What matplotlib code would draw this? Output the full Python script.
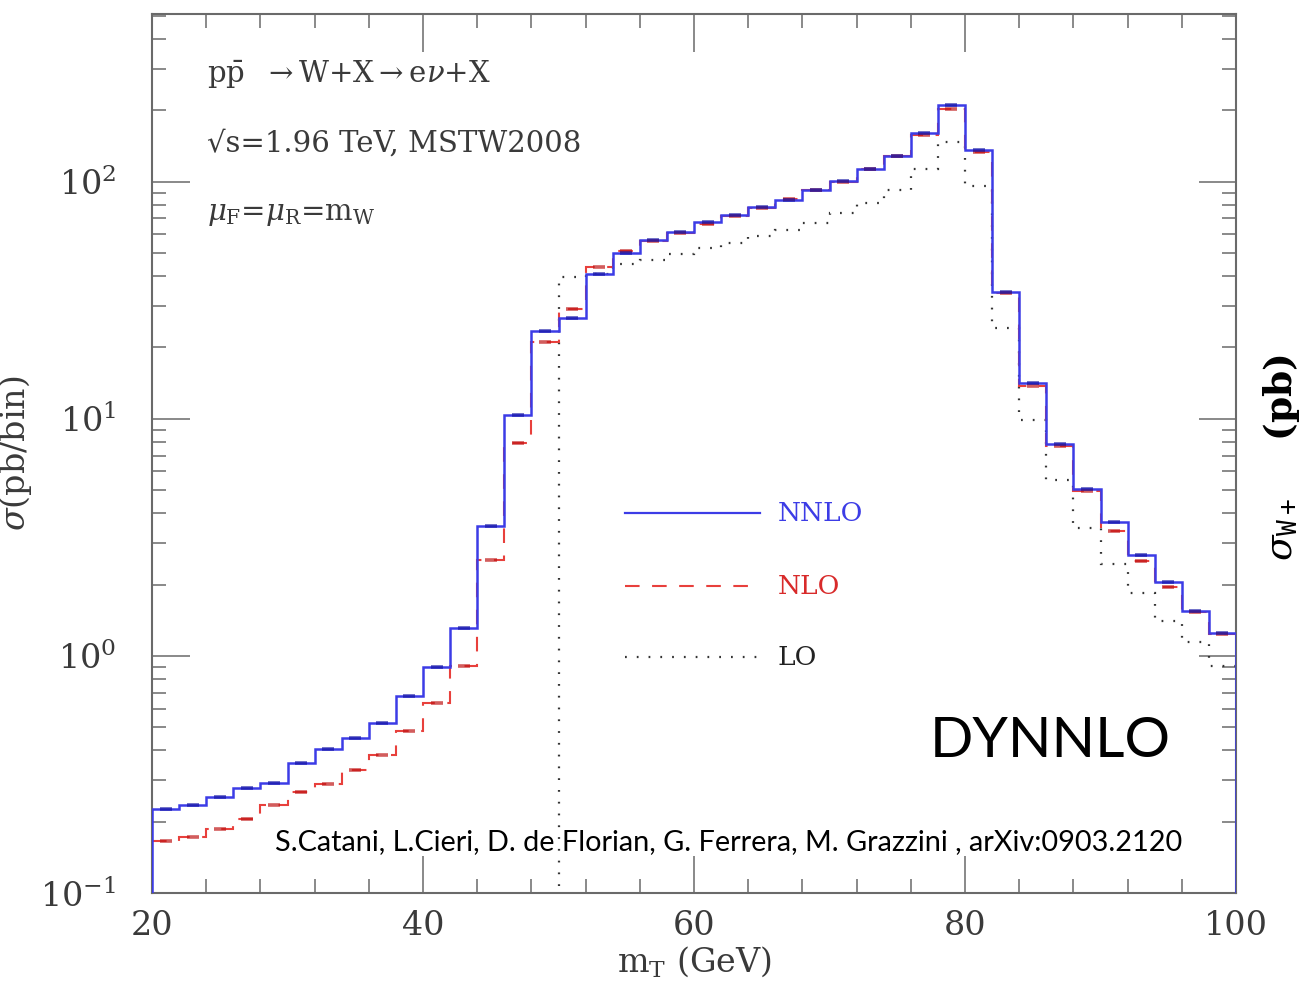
import numpy as np
import matplotlib
matplotlib.use("Agg")
import matplotlib.pyplot as plt
from matplotlib.ticker import MultipleLocator, LogLocator, NullFormatter

# ---------------- data ----------------
bin_edges = np.arange(20, 101, 2)  # m_T bins, 2 GeV wide

nnlo = [0.227, 0.235, 0.253, 0.277, 0.290, 0.355, 0.403, 0.452, 0.523, 0.678,
        0.90, 1.31, 3.54, 10.4, 23.4, 26.6, 40.8, 50.0, 56.7, 61.5,
        67.5, 72.3, 78.3, 83.6, 92.7, 100.5, 113.6, 129.0, 160.0, 211.0,
        136.7, 34.4, 14.1, 7.85, 5.06, 3.66, 2.67, 2.05, 1.55, 1.25]

nlo = [0.165, 0.173, 0.186, 0.206, 0.235, 0.266, 0.288, 0.331, 0.382, 0.482,
       0.630, 0.905, 2.53, 7.94, 21.1, 29.1, 43.5, 50.8, 56.0, 61.0,
       66.5, 71.5, 77.5, 84.5, 92.0, 100.0, 113.0, 128.0, 157.0, 203.0,
       133.0, 33.8, 13.7, 7.7, 4.95, 3.35, 2.51, 1.96, 1.53, 1.24]

lo = [0, 0, 0, 0, 0, 0, 0, 0, 0, 0,
      0, 0, 0, 0, 0, 39.7, 41.0, 45.0, 46.8, 49.5,
      52.3, 55.0, 59.0, 62.6, 66.7, 73.5, 81.5, 92.7, 113.0, 147.0,
      95.7, 24.1, 9.9, 5.53, 3.47, 2.43, 1.85, 1.40, 1.14, 0.905]

series_labels = ["NNLO", "NLO", "LO"]
x_ticks = [20, 40, 60, 80, 100]

# ---------------- styling ----------------
plt.rcParams["mathtext.fontset"] = "dejavuserif"
plt.rcParams["font.family"] = ["DejaVu Serif"]

BLUE = "#3c3ce6"
RED = "#e8403c"
BLACK = "#333333"
GREY = "#6a6a6a"
TXT = "#3a3a3a"

fig = plt.figure(figsize=(13.06, 9.91), dpi=100)
ax = fig.add_axes([152 / 1306, 98 / 991, 1084 / 1306, 879 / 991])

edges = np.array(bin_edges, dtype=float)
centers = 0.5 * (edges[:-1] + edges[1:])
nnlo_a = np.array(nnlo)
nlo_a = np.array(nlo)
lo_a = np.array(lo, dtype=float)
lo_plot = np.where(lo_a > 0, lo_a, 1e-6)

# histograms
ax.stairs(lo_plot, edges, baseline=None, color=BLACK, lw=1.6,
          linestyle=(0, (0.8, 4.5)), zorder=2)
ax.stairs(nlo_a, edges, baseline=None, color=RED, lw=1.5,
          linestyle=(0, (7, 6)), zorder=3)
ax.stairs(nnlo_a, edges, baseline=1e-6, color=BLUE, lw=1.8, zorder=4)

# small error-bar marks at bin centres
ax.plot(centers, nlo_a, ls="none", marker="_", ms=8, mew=2.6,
        color="#c01818", alpha=0.7, zorder=5)
ax.plot(centers, nnlo_a, ls="none", marker="_", ms=8, mew=2.6,
        color="#1a1aa8", alpha=0.75, zorder=6)

ax.set_yscale("log")
ax.set_xlim(20, 100)
ax.set_ylim(0.1, 510)

ax.xaxis.set_major_locator(MultipleLocator(20))
ax.xaxis.set_minor_locator(MultipleLocator(4))
ax.set_xticks(x_ticks)
ax.yaxis.set_major_locator(LogLocator(base=10, numticks=10))
ax.yaxis.set_minor_locator(LogLocator(base=10, subs=np.arange(2, 10), numticks=20))
ax.yaxis.set_minor_formatter(NullFormatter())

ax.tick_params(axis="both", which="major", direction="in", length=27, width=1.1,
               color=GREY, top=True, right=True, labelsize=24, labelcolor=TXT)
ax.tick_params(axis="both", which="minor", direction="in", length=10, width=1.1,
               color=GREY, top=True, right=True)
ax.tick_params(axis="x", which="major", pad=12)
ax.tick_params(axis="y", which="major", pad=26)
for s in ax.spines.values():
    s.set_color(GREY)
    s.set_linewidth(1.5)

ax.set_xlabel(r"$\mathrm{m_T}$ (GeV)", fontsize=24, color=TXT, labelpad=2)
ax.set_ylabel(r"$\sigma$(pb/bin)", fontsize=24, color=TXT, labelpad=4)

# process annotations
ax.text(0.051, 0.923, r"$\mathrm{p\bar{p}}$  $\rightarrow$W+X$\rightarrow$e$\nu$+X",
        transform=ax.transAxes, fontsize=21, color=TXT)
ax.text(0.051, 0.843, "\u221as=1.96 TeV, MSTW2008",
        transform=ax.transAxes, fontsize=21, color=TXT)
ax.text(0.051, 0.766, r"$\mu_\mathrm{F}$=$\mu_\mathrm{R}$=m$_\mathrm{W}$",
        transform=ax.transAxes, fontsize=21, color=TXT)

# hand-drawn legend
leg_styles = [dict(color=BLUE, lw=1.6, ls="-"),
              dict(color=RED, lw=1.5, ls=(0, (7, 6))),
              dict(color=BLACK, lw=1.6, ls=(0, (0.8, 4.5)))]
leg_colors = [BLUE, "#d82a2a", "#222222"]
leg_y = [0.432, 0.349, 0.268]
for lab, st, c, yy in zip(series_labels, leg_styles, leg_colors, leg_y):
    ax.plot([0.436, 0.561], [yy, yy], transform=ax.transAxes, **st)
    ax.text(0.577, yy, lab, transform=ax.transAxes, fontsize=19, color=c,
            va="center", ha="left")

# overlays
fig.text(930 / 1306, 1 - 757 / 991, "DYNNLO", family="Lato", fontsize=41,
         color="black", ha="left", va="baseline")
fig.text(275 / 1306, 1 - 850 / 991,
         "S.Catani, L.Cieri, D. de Florian, G. Ferrera, M. Grazzini , arXiv:0903.2120",
         family="Lato", fontsize=20.8, color="black", ha="left", va="baseline")
fig.text(1282 / 1306, 1 - 458 / 991, r"$\sigma_{\mathtt{W+}}$    (pb)",
         family="DejaVu Serif", fontweight="bold", fontsize=27, color="black",
         rotation=90, ha="center", va="center")

fig.savefig("out.png", dpi=100)
